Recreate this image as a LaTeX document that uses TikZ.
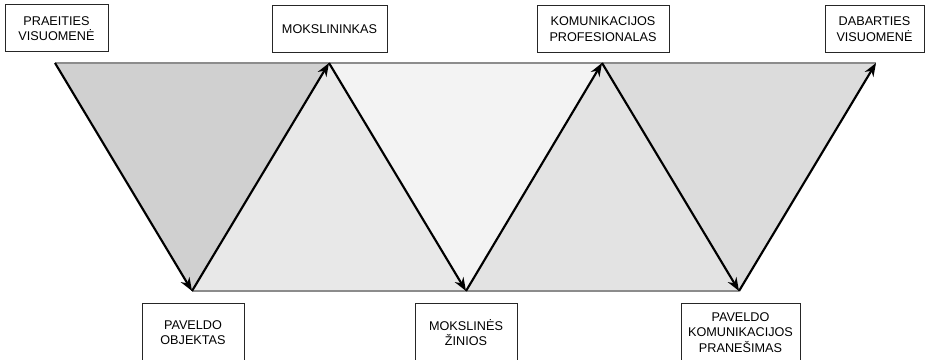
\documentclass[tikz,border=0pt]{standalone}
\usepackage{fontspec}
\setmainfont{Liberation Sans}
\usetikzlibrary{arrows.meta}
\definecolor{tA}{HTML}{D0D0D0}
\definecolor{tB}{HTML}{E8E8E8}
\definecolor{tC}{HTML}{F3F3F3}
\definecolor{tD}{HTML}{E3E3E3}
\definecolor{tE}{HTML}{DCDCDC}
\definecolor{edge}{HTML}{8C8C8C}
\tikzset{
  lbox/.style={draw=black!85, line width=0.75pt, fill=white, align=center, inner sep=0pt,
    font=\fontsize{9.5}{11.5}\selectfont},
  flow/.style={line width=1.6pt, -{Stealth[length=10pt,width=7.5pt]}},
  baseline/.style={draw=edge, line width=1pt}
}
\begin{document}
\begin{tikzpicture}[x=0.75pt, y=-0.75pt]
\useasboundingbox (0,0) rectangle (925,360);
% vertices
\coordinate (A) at (55,63);
\coordinate (B) at (329,63);
\coordinate (C) at (602,63);
\coordinate (D) at (876,63);
\coordinate (P) at (192,291);
\coordinate (Q) at (466,291);
\coordinate (R) at (739,291);
% shaded triangles
\fill[tA] (A) -- (B) -- (P) -- cycle;
\fill[tB] (P) -- (B) -- (Q) -- cycle;
\fill[tC] (B) -- (C) -- (Q) -- cycle;
\fill[tD] (Q) -- (C) -- (R) -- cycle;
\fill[tE] (C) -- (D) -- (R) -- cycle;
% edges
\draw[baseline] (A) -- (D);
\draw[baseline] (P) -- (R);
% arrows
\draw[flow] (A) -- (P);
\draw[flow] (P) -- (B);
\draw[flow] (B) -- (Q);
\draw[flow] (Q) -- (C);
\draw[flow] (C) -- (R);
\draw[flow] (R) -- (D);
% boxes
\node[lbox, minimum width=77.25pt, minimum height=35.25pt] (n1) at (56.5,28.5) {PRAEITIES\\VISUOMENĖ};
\node[lbox, minimum width=86.25pt, minimum height=35.25pt] (n2) at (329.5,29) {MOKSLININKAS};
\node[lbox, minimum width=99pt, minimum height=35.25pt] (n3) at (603,29) {KOMUNIKACIJOS\\PROFESIONALAS};
\node[lbox, minimum width=74.25pt, minimum height=35.25pt] (n4) at (874.5,29) {DABARTIES\\VISUOMENĖ};
\node[lbox, minimum width=76.5pt, minimum height=44.25pt] (n5) at (193,332.5) {PAVELDO\\OBJEKTAS};
\node[lbox, minimum width=76.5pt, minimum height=44.25pt] (n6) at (466,332.5) {MOKSLINĖS\\ŽINIOS};
\node[lbox, minimum width=89.25pt, minimum height=44.25pt] (n7) at (740.5,332.5) {PAVELDO\\KOMUNIKACIJOS\\PRANEŠIMAS};
\end{tikzpicture}
\end{document}
